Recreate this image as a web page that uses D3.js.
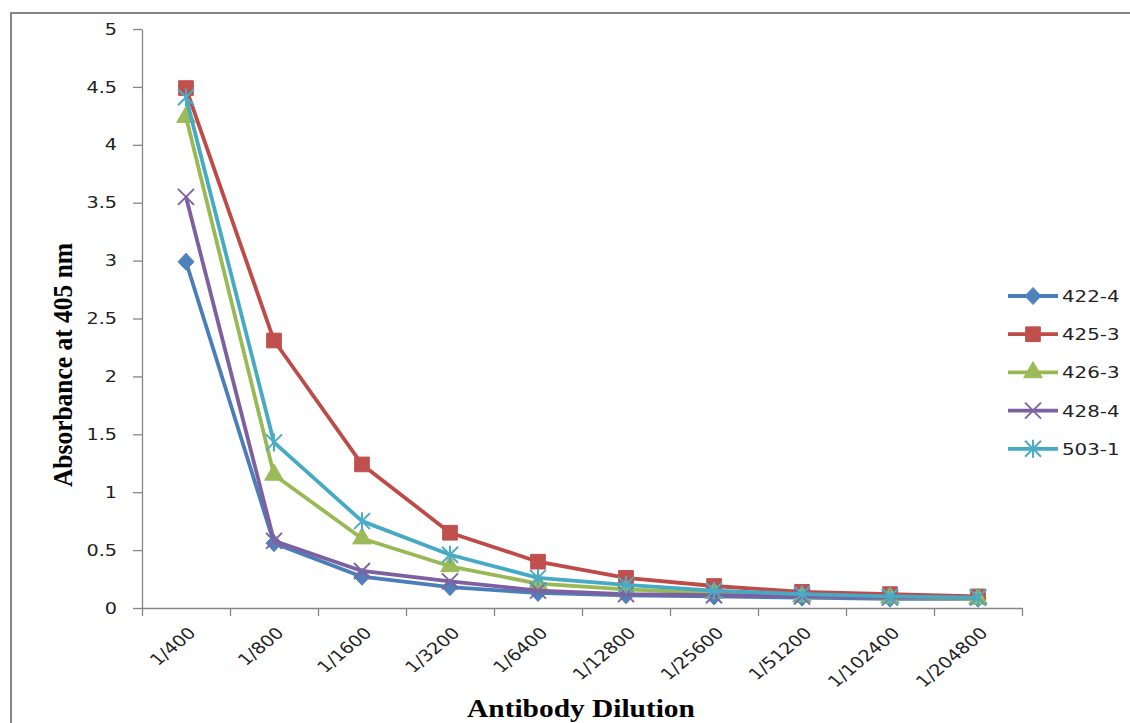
<!DOCTYPE html>
<html>
<head>
<meta charset="utf-8">
<script src="https://cdn.jsdelivr.net/npm/d3@7"></script>
<style>
  html, body { margin: 0; padding: 0; background: #fff; }
  svg { display: block; }
</style>
</head>
<body>
<svg id="chart" width="1130" height="723"></svg>
<script>
// Antibody dilution series (x categories)
const dilutions = ["1/400", "1/800", "1/1600", "1/3200", "1/6400", "1/12800",
                   "1/25600", "1/51200", "1/102400", "1/204800"];

// Absorbance at 405 nm for each antibody clone
const seriesNames = ["422-4", "425-3", "426-3", "428-4", "503-1"];
const abs422_4 = [2.99, 0.56, 0.27, 0.18, 0.13, 0.11, 0.10, 0.09, 0.08, 0.08];
const abs425_3 = [4.49, 2.31, 1.24, 0.65, 0.40, 0.26, 0.19, 0.14, 0.12, 0.10];
const abs426_3 = [4.24, 1.15, 0.60, 0.36, 0.21, 0.16, 0.13, 0.10, 0.09, 0.08];
const abs428_4 = [3.55, 0.58, 0.32, 0.23, 0.15, 0.12, 0.11, 0.10, 0.09, 0.09];
const abs503_1 = [4.41, 1.43, 0.75, 0.46, 0.26, 0.20, 0.15, 0.12, 0.10, 0.09];

// Y axis ticks
const yTicks = [0, 0.5, 1, 1.5, 2, 2.5, 3, 3.5, 4, 4.5, 5];

const seriesValues = [abs422_4, abs425_3, abs426_3, abs428_4, abs503_1];
const lineColors = ["#4a7ebb", "#be4b48", "#98b954", "#7d60a0", "#46aac5"];
const markerColors = ["#4f81bd", "#c0504d", "#9bbb59", "#8064a2", "#4bacc6"];
const markerKinds = ["diamond", "square", "triangle", "x", "star"];

// text in this chart is drawn slightly widened horizontally
const stretch = 1.2;

const svg = d3.select("#chart");

// outer chart frame
svg.append("rect")
  .attr("x", 11).attr("y", 13)
  .attr("width", 1140).attr("height", 740)
  .attr("fill", "#fff")
  .attr("stroke", "#868686").attr("stroke-width", 2);

const plot = { left: 142, right: 1022, top: 29, bottom: 608 };

const x = d3.scaleBand().domain(dilutions).range([plot.left, plot.right]).padding(0);
const xEdges = d3.scaleLinear().domain([0, dilutions.length]).range([plot.left, plot.right]);
const y = d3.scaleLinear().domain([0, 5]).range([plot.bottom, plot.top]);

const axisColor = "#868686";
const tickFont = "'DejaVu Sans', sans-serif";

// Y axis
const yAxis = svg.append("g")
  .attr("transform", `translate(${plot.left},0)`)
  .call(d3.axisLeft(y).tickValues(yTicks).tickSize(9).tickSizeOuter(0).tickPadding(15)
    .tickFormat(d3.format("")));
yAxis.select(".domain").attr("stroke", axisColor).attr("stroke-width", 1.3);
yAxis.selectAll(".tick line").attr("stroke", axisColor).attr("stroke-width", 1.3);
yAxis.selectAll(".tick text")
  .attr("font-family", tickFont).attr("font-size", 16).attr("fill", "#222")
  .attr("x", 0)
  .attr("transform", `translate(-25,0) scale(${stretch},1)`);

// X axis: tick marks on category boundaries
const xAxis = svg.append("g")
  .attr("transform", `translate(0,${plot.bottom})`)
  .call(d3.axisBottom(xEdges).tickValues(d3.range(0, dilutions.length + 1))
    .tickSize(8).tickSizeOuter(0).tickFormat(""));
xAxis.select(".domain").attr("stroke", axisColor).attr("stroke-width", 1.3);
xAxis.selectAll(".tick line").attr("stroke", axisColor).attr("stroke-width", 1.3);

// X category labels, rotated
const xLabels = svg.append("g")
  .attr("transform", `translate(0,${plot.bottom})`)
  .call(d3.axisBottom(x).tickSize(0).tickPadding(0));
xLabels.select(".domain").remove();
xLabels.selectAll(".tick text")
  .attr("font-family", tickFont).attr("font-size", 16).attr("fill", "#222")
  .attr("text-anchor", "end")
  .attr("y", 0).attr("dy", 0)
  .attr("transform", `translate(11,26) scale(${stretch},1) rotate(-45)`);

// marker symbols
const symbolFor = {
  square: d3.symbol().type(d3.symbolSquare).size(215),
  triangle: d3.symbol().type(d3.symbolTriangle).size(150),
};

function drawMarker(g, kind, cx, cy, color) {
  if (kind === "x" || kind === "star") {
    const r = 8;
    const p = d3.path();
    p.moveTo(cx - r, cy - r); p.lineTo(cx + r, cy + r);
    p.moveTo(cx - r, cy + r); p.lineTo(cx + r, cy - r);
    if (kind === "star") { p.moveTo(cx, cy - r - 1); p.lineTo(cx, cy + r + 1); }
    g.append("path").attr("d", p.toString())
      .attr("stroke", color).attr("stroke-width", 2).attr("fill", "none");
  } else if (kind === "diamond") {
    const p = d3.path();
    p.moveTo(cx, cy - 8.5); p.lineTo(cx + 8, cy); p.lineTo(cx, cy + 8.5);
    p.lineTo(cx - 8, cy); p.closePath();
    g.append("path").attr("d", p.toString())
      .attr("fill", color).attr("stroke", color).attr("stroke-width", 1);
  } else {
    g.append("path").attr("d", symbolFor[kind]())
      .attr("transform", `translate(${cx},${cy})`)
      .attr("fill", color).attr("stroke", color).attr("stroke-width", 1);
  }
}

const line = d3.line()
  .x((d, i) => x(dilutions[i]) + x.bandwidth() / 2)
  .y(d => y(d));

seriesValues.forEach((vals, si) => {
  const g = svg.append("g");
  g.append("path").datum(vals)
    .attr("d", line)
    .attr("fill", "none")
    .attr("stroke", lineColors[si])
    .attr("stroke-width", 3.8)
    .attr("stroke-linejoin", "round");
  vals.forEach((v, i) => {
    drawMarker(g, markerKinds[si], x(dilutions[i]) + x.bandwidth() / 2, y(v), markerColors[si]);
  });
});

// Legend
const legend = svg.append("g");
const legendY0 = 296, legendStep = 38.2;
seriesNames.forEach((name, si) => {
  const ly = legendY0 + si * legendStep;
  const g = legend.append("g");
  g.append("line")
    .attr("x1", 1008).attr("x2", 1058).attr("y1", ly).attr("y2", ly)
    .attr("stroke", lineColors[si]).attr("stroke-width", 3.8);
  drawMarker(g, markerKinds[si], 1033, ly, markerColors[si]);
  g.append("text")
    .attr("transform", `translate(1062,${ly}) scale(${stretch},1)`)
    .attr("dy", "0.36em")
    .attr("font-family", tickFont).attr("font-size", 16.5).attr("fill", "#222")
    .text(name);
});

// Axis titles
svg.append("text")
  .attr("transform", `translate(581,717) scale(${stretch},1)`)
  .attr("text-anchor", "middle")
  .attr("font-family", "'Liberation Serif', serif").attr("font-weight", "bold")
  .attr("font-size", 24.5).attr("fill", "#000")
  .text("Antibody Dilution");

svg.append("text")
  .attr("transform", "translate(72,365) scale(1.08,1) rotate(-90)")
  .attr("text-anchor", "middle")
  .attr("font-family", "'Liberation Serif', serif").attr("font-weight", "bold")
  .attr("font-size", 25.5).attr("fill", "#000")
  .text("Absorbance at 405 nm");
</script>
</body>
</html>
